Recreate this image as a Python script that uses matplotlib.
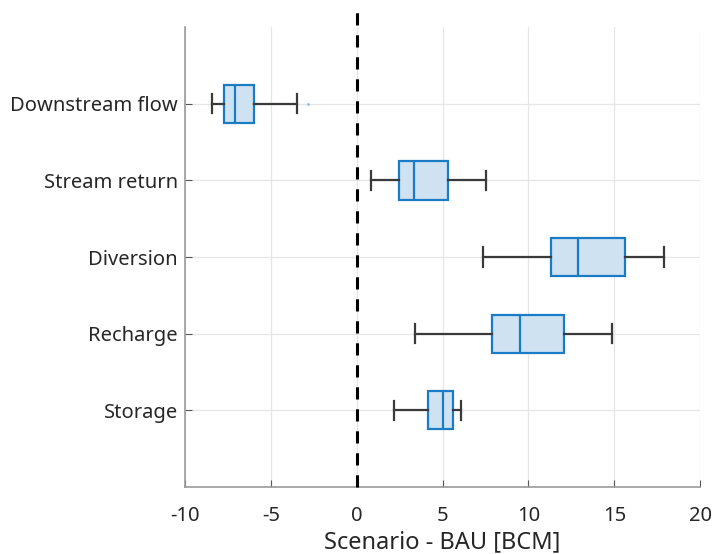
import matplotlib
matplotlib.use("Agg")
import matplotlib.pyplot as plt

# Scenario minus BAU differences, billion cubic metres
categories = ["Storage", "Recharge", "Diversion", "Stream return", "Downstream flow"]
whisker_low = [2.17, 3.40, 7.34, 0.81, -8.43]
q1 = [4.15, 7.88, 11.32, 2.46, -7.73]
median = [5.03, 9.49, 12.91, 3.34, -7.09]
q3 = [5.59, 12.09, 15.64, 5.30, -6.00]
whisker_high = [6.09, 14.89, 17.88, 7.55, -3.46]
outliers = [[], [], [], [], [-2.82]]
x_ticks = [-10, -5, 0, 5, 10, 15, 20]

plt.rcParams["font.family"] = ["Noto Sans", "DejaVu Sans"]

fig = plt.figure(figsize=(7.13, 5.54), dpi=100)
ax = fig.add_axes([0.2595, 0.121, 0.7225, 0.830])

stats = []
for i, name in enumerate(categories):
    stats.append(dict(label=name, whislo=whisker_low[i], q1=q1[i], med=median[i],
                      q3=q3[i], whishi=whisker_high[i], fliers=outliers[i]))

blue = "#1a7cc4"
positions = list(range(1, len(categories) + 1))
ax.bxp(stats, positions=positions, vert=False, widths=0.5, patch_artist=True,
       boxprops=dict(facecolor="#cfe2f1", edgecolor=blue, linewidth=1.6),
       medianprops=dict(color=blue, linewidth=1.6),
       whiskerprops=dict(color="#3a3a3a", linewidth=1.6),
       capprops=dict(color="#3a3a3a", linewidth=1.6),
       capwidths=0.25,
       flierprops=dict(marker=".", markersize=2, markerfacecolor="#8fc0e6",
                       markeredgecolor="#8fc0e6"),
       zorder=3)

ax.set_xlim(-10, 20)
ax.set_ylim(0, 6)
ax.set_xticks(x_ticks)
ax.set_xticklabels([str(t) for t in x_ticks])
ax.set_yticks(positions)
ax.set_yticklabels(categories)

ax.grid(True, color="#e6e6e6", linewidth=0.9, zorder=0)
ax.set_axisbelow(True)

# zero reference line, running a little past the top of the axes
ax.plot([0, 0], [0, 1.04], transform=ax.get_xaxis_transform(), color="black",
        linestyle=(0, (4, 3.2)), linewidth=2.2, clip_on=False, zorder=4)

for side in ("top", "right"):
    ax.spines[side].set_visible(False)
for side in ("left", "bottom"):
    ax.spines[side].set_color("#9a9a9a")
    ax.spines[side].set_linewidth(1.2)

ax.tick_params(axis="both", direction="in", length=5, color="#555555",
               labelsize=14.5, labelcolor="#262626")
ax.tick_params(axis="x", pad=14)
ax.tick_params(axis="y", pad=5)

ax.set_xlabel("Scenario - BAU [BCM]", fontsize=17, color="#262626", labelpad=3)

fig.savefig("out.png", dpi=100)
